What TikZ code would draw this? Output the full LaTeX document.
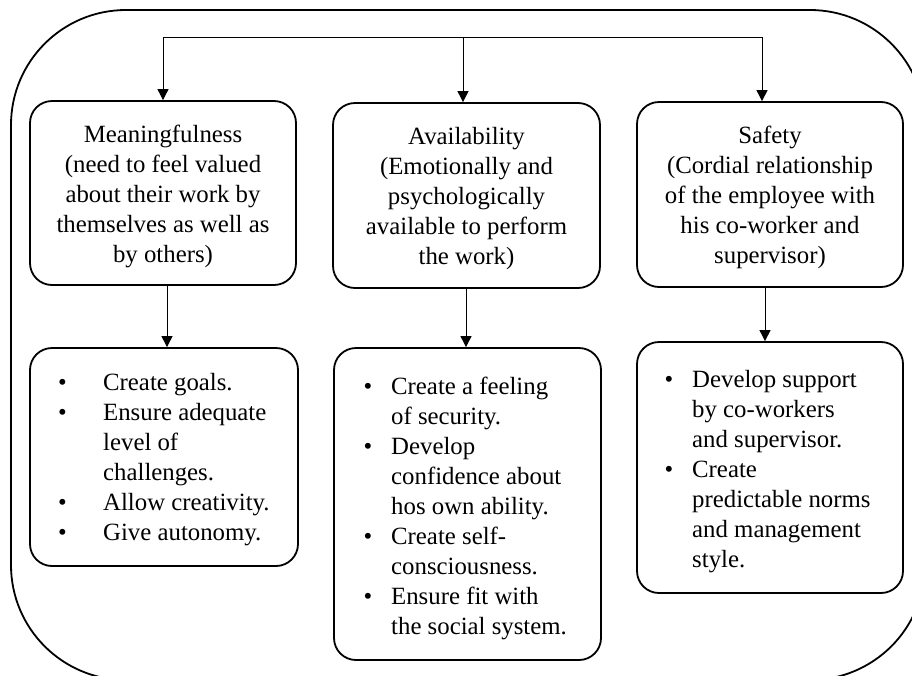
\documentclass[tikz,border=0pt]{standalone}
\usepackage{fontspec}
\setmainfont{Liberation Serif}
\usetikzlibrary{arrows.meta}
\newcommand\bitem[1]{\makebox[#1][l]{\textbullet}}
\begin{document}
\begin{tikzpicture}[x=1pt,y=-1pt,
  txt/.style={font=\fontsize{24.8}{30}\selectfont, inner sep=0pt},
  box/.style={draw, line width=1.8pt, rounded corners=22pt, inner sep=0pt},
  arr/.style={line width=0.9pt, -{Triangle[width=11pt,length=11pt]}},
  frame/.style={draw, line width=1.8pt, rounded corners=115pt}]
\useasboundingbox (0,0) rectangle (912,675);
\begin{scope}
  \clip (0,0) rectangle (912,675);
  \draw[frame] (11,10) rectangle (925,680);
\end{scope}
% top boxes
\node[box, minimum width=266pt, minimum height=184pt] (mean) at (163,193) {};
\node[box, minimum width=267pt, minimum height=185pt] (avail) at (466.5,195.5) {};
\node[box, minimum width=266pt, minimum height=185pt] (safe) at (770,194.5) {};
\node[txt, align=center] (meant) at (163,196) {Meaningfulness\\(need to feel valued\\about their work by\\themselves as well as\\by others)};
\node[txt, align=center] (availt) at (466.5,198.5) {Availability\\(Emotionally and\\psychologically\\available to perform\\the work)};
\node[txt, align=center] (safet) at (770,197.5) {Safety\\(Cordial relationship\\of the employee with\\his co-worker and\\supervisor)};
% bottom boxes
\node[box, minimum width=268pt, minimum height=218pt] (mb) at (164,457) {};
\node[box, minimum width=267pt, minimum height=312pt] (ab) at (467.5,504) {};
\node[box, minimum width=266pt, minimum height=251pt] (sb) at (770,467.5) {};
% bullet texts
\node[txt, align=left, anchor=west] (mt) at (58,459.5) {\bitem{45pt}Create goals.\\\bitem{45pt}Ensure adequate\\\hspace*{45pt}level of\\\hspace*{45pt}challenges.\\\bitem{45pt}Allow creativity.\\\bitem{45pt}Give autonomy.};
\node[txt, align=left, anchor=west] (at) at (363.5,508.5) {\bitem{27.5pt}Create a feeling\\\hspace*{27.5pt}of security.\\\bitem{27.5pt}Develop\\\hspace*{27.5pt}confidence about\\\hspace*{27.5pt}hos own ability.\\\bitem{27.5pt}Create self-\\\hspace*{27.5pt}consciousness.\\\bitem{27.5pt}Ensure fit with\\\hspace*{27.5pt}the social system.};
\node[txt, align=left, anchor=west] (st) at (664.5,471.5) {\bitem{27.5pt}Develop support\\\hspace*{27.5pt}by co-workers\\\hspace*{27.5pt}and supervisor.\\\bitem{27.5pt}Create\\\hspace*{27.5pt}predictable norms\\\hspace*{27.5pt}and management\\\hspace*{27.5pt}style.};
% connectors
\coordinate (t1) at (163,37);
\coordinate (t2) at (463,37);
\coordinate (t3) at (762,37);
\draw[line width=0.9pt] (t1) -- (t3);
\draw[arr] (t1) -- (t1 |- mean.north);
\draw[arr] (t2) -- (t2 |- avail.north);
\draw[arr] (t3) -- (t3 |- safe.north);
\coordinate (x1) at (167,0);
\coordinate (x2) at (466,0);
\coordinate (x3) at (765,0);
\draw[arr] (x1 |- mean.south) -- (x1 |- mb.north);
\draw[arr] (x2 |- avail.south) -- (x2 |- ab.north);
\draw[arr] (x3 |- safe.south) -- (x3 |- sb.north);
\end{tikzpicture}
\end{document}
